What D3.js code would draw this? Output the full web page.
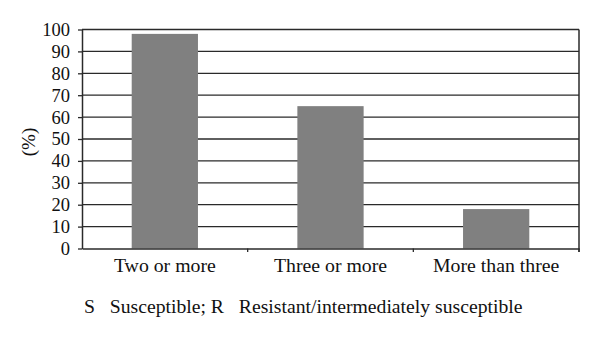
<!DOCTYPE html>
<html><head><meta charset="utf-8">
<script src="https://cdn.jsdelivr.net/npm/d3@7"></script>
<style>
html,body{margin:0;padding:0;background:#fff;}
svg{display:block;}
text{font-family:"Liberation Serif","Times New Roman",serif;fill:#111;}
</style></head>
<body>
<svg id="chart" width="600" height="348"></svg>
<script>
const categories = ["Two or more", "Three or more", "More than three"];
const values = [98, 65, 18];
const yTicks = [0, 10, 20, 30, 40, 50, 60, 70, 80, 90, 100];
const yLabel = "(%)";
const footnote = "S\u2002 Susceptible; R\u2002 Resistant/intermediately susceptible";

const svg = d3.select("#chart");
const m = {left: 82, right: 579, top: 29.5, bottom: 248.5};

const x = d3.scaleBand().domain(categories).range([m.left, m.right]).padding(0);
const y = d3.scaleLinear().domain([0, 100]).range([m.bottom, m.top]);

// gridlines
svg.append("g").selectAll("line").data(yTicks.filter(d => d > 0)).join("line")
  .attr("x1", m.left).attr("x2", m.right)
  .attr("y1", d => y(d)).attr("y2", d => y(d))
  .attr("stroke", "#2a2a2a").attr("stroke-width", 1.3);

// bars
const bw = x.bandwidth() * 0.4;
svg.append("g").selectAll("rect").data(values).join("rect")
  .attr("x", (d, i) => x(categories[i]) + x.bandwidth() / 2 - bw / 2)
  .attr("y", d => y(d))
  .attr("width", bw)
  .attr("height", d => y(0) - y(d))
  .attr("fill", "#808080");

// right border
svg.append("line").attr("x1", m.right).attr("x2", m.right)
  .attr("y1", m.top).attr("y2", m.bottom + 3.5)
  .attr("stroke", "#2a2a2a").attr("stroke-width", 1.5);

// y axis
const yAxis = svg.append("g").attr("transform", `translate(${m.left},0)`)
  .call(d3.axisLeft(y).tickValues(yTicks).tickSize(4).tickPadding(8).tickSizeOuter(0));
yAxis.select(".domain").attr("stroke", "#2a2a2a").attr("stroke-width", 1.5);
yAxis.selectAll(".tick line").attr("stroke", "#2a2a2a").attr("stroke-width", 1.3);
yAxis.selectAll("text").style("font-size", "18.5px").style("font-family", '"Liberation Serif", serif').attr("fill", "#111");

// x axis
const xAxis = svg.append("g").attr("transform", `translate(0,${m.bottom})`)
  .call(d3.axisBottom(x).tickSize(0).tickPadding(9).tickSizeOuter(0));
xAxis.select(".domain").attr("stroke", "#2a2a2a").attr("stroke-width", 1.5);
xAxis.selectAll("text").style("font-size", "19.8px").style("font-family", '"Liberation Serif", serif').attr("fill", "#111");
// boundary ticks
const bounds = categories.map(c => x(c)).concat([m.right]);
svg.append("g").selectAll("line").data(bounds.slice(1)).join("line")
  .attr("x1", d => d).attr("x2", d => d)
  .attr("y1", m.bottom).attr("y2", m.bottom + 3.5)
  .attr("stroke", "#2a2a2a").attr("stroke-width", 1.3);

// y label
svg.append("text")
  .attr("transform", `translate(31,${(m.top + m.bottom) / 2 + 3}) rotate(-90)`)
  .attr("text-anchor", "middle").attr("dominant-baseline", "middle")
  .style("font-size", "19px").text(yLabel);

// footnote
svg.append("text").attr("x", 84).attr("y", 312.5)
  .style("font-size", "19.7px").style("white-space", "pre").text(footnote);
</script>
</body></html>
